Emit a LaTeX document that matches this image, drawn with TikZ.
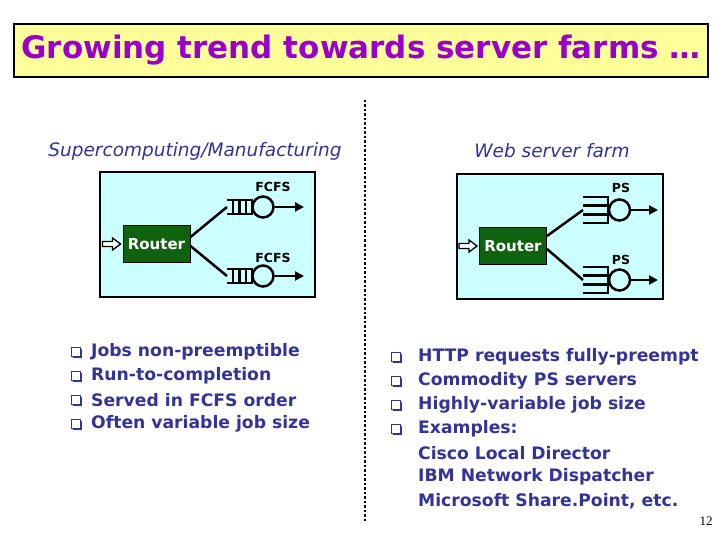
\documentclass[tikz,border=0pt]{standalone}
\usepackage{fontspec}
\setmainfont{DejaVu Sans}
\newfontfamily\serifnum{Liberation Serif}
\usetikzlibrary{calc,arrows.meta,shadows}
\definecolor{ttl}{HTML}{9900CC}
\definecolor{txt}{HTML}{333399}
\definecolor{ybg}{HTML}{FFFF99}
\definecolor{cbg}{HTML}{CCFFFF}
\definecolor{rgreen}{HTML}{0F620F}
\tikzset{
  titlebox/.style={draw=black, line width=2.5pt, fill=ybg, text=ttl, minimum width=694pt, minimum height=53pt, inner sep=0pt,
    font=\fontsize{31}{35}\selectfont\bfseries},
  hdr/.style={text=txt, inner sep=0pt, font=\fontsize{18.5}{22}\selectfont\itshape},
  panel/.style={draw=black, line width=1.5pt, fill=cbg, inner sep=0pt},
  router/.style={draw=black, line width=1pt, fill=rgreen, text=white, minimum width=67pt, minimum height=36pt, inner sep=0pt,
    font=\fontsize{15}{17}\selectfont\bfseries},
  hollow/.style={draw=black, fill=white, line width=1.3pt, line join=miter},
  link/.style={line width=2.5pt},
  qline/.style={line width=2.5pt},
  server/.style={circle, draw=black, line width=2.5pt, minimum size=21pt, inner sep=0pt},
  outarrow/.style={line width=2.5pt, -{Triangle[length=9pt,width=9pt]}},
  qlabel/.style={inner sep=0pt, font=\fontsize{12.5}{14}\selectfont\bfseries},
  bul/.style={rectangle, draw=txt, fill=white, line width=0.9pt, minimum size=8.5pt, inner sep=0pt,
    general shadow={fill=txt, shadow xshift=1.4pt, shadow yshift=-1.4pt}},
  btext/.style={anchor=west, text=txt, inner sep=0pt, font=\fontsize{17.2}{20}\selectfont\bfseries},
  divider/.style={line width=2.5pt, dash pattern=on 2.5pt off 2pt},
}
\begin{document}
\begin{tikzpicture}[x=1pt,y=-1pt]
\useasboundingbox (0,0) rectangle (720,540);
\fill[white] (0,0) rectangle (720,540);

% title
\node[titlebox] (title) at (361,50.5) {Growing trend towards server farms …};

% divider
\coordinate (dtop) at (365,100);
\coordinate (dbot) at (365,521);
\draw[divider] (dtop) -- (dbot);

% headers
\node[hdr] (lhead) at (195,151) {Supercomputing/Manufacturing};
\node[hdr] (rhead) at (552,151) {Web server farm};

% ---------- left panel ----------
\node[panel, minimum width=215pt, minimum height=125pt] (lbox) at (207.5,234.5) {};
\node[router] (lrouter) at (156.5,244) {Router};
\draw[hollow] ([xshift=-2pt]lrouter.west) -- ++(-8,6) -- ++(0,-3.5) -- ++(-10,0) -- ++(0,-5) -- ++(10,0) -- ++(0,-3.5) -- cycle;

\coordinate (lq1) at (227,207);
\coordinate (lq2) at (227,276);
\foreach \q in {lq1,lq2} {
  \draw[qline] ($(\q)+(0,-7)$) -- ++(26,0);
  \draw[qline] ($(\q)+(0,7)$) -- ++(26,0);
  \foreach \x in {6,12.5,19,25} \draw[qline] ($(\q)+(\x,-7)$) -- ++(0,14);
}
\node[server] (ls1) at (263,207) {};
\node[server] (ls2) at (263,276) {};
\coordinate (lo1) at (304,207);
\coordinate (lo2) at (304,276);
\draw[outarrow] (ls1) -- (lo1);
\draw[outarrow] (ls2) -- (lo2);
\node[qlabel] (lf1) at (273,187) {FCFS};
\node[qlabel] (lf2) at (273,258) {FCFS};
\draw[link] ([yshift=7pt]lrouter.east) -- (lq1);
\draw[link] ([yshift=-2pt]lrouter.east) -- (lq2);

% ---------- right panel ----------
\node[panel, minimum width=206pt, minimum height=125pt] (rbox) at (560,236.5) {};
\node[router] (rrouter) at (513,246) {Router};
\draw[hollow] ([xshift=-2pt]rrouter.west) -- ++(-8,6) -- ++(0,-3.5) -- ++(-10,0) -- ++(0,-5) -- ++(10,0) -- ++(0,-3.5) -- cycle;

\coordinate (rq1) at (583,210);
\coordinate (rq2) at (583,280);
\foreach \q in {rq1,rq2} {
  \draw[qline] ($(\q)+(25,-14)$) -- ++(0,28);
  \foreach \y in {-13,-4.5,4.5,13} \draw[qline] ($(\q)+(0,\y)$) -- ++(25,0);
}
\node[server] (rs1) at (619.5,210) {};
\node[server] (rs2) at (619.5,280) {};
\coordinate (ro1) at (658,210);
\coordinate (ro2) at (658,280);
\draw[outarrow] (rs1) -- (ro1);
\draw[outarrow] (rs2) -- (ro2);
\node[qlabel] (rp1) at (621,188) {PS};
\node[qlabel] (rp2) at (621,260) {PS};
\draw[link] ([yshift=10pt]rrouter.east) -- (rq1);
\draw[link] ([yshift=-3pt]rrouter.east) -- (rq2);

% ---------- bullets left ----------
\foreach \t [count=\i] in {Jobs non-preemptible, Run-to-completion, Served in FCFS order, Often variable job size} {
  \node[bul] (lb\i) at (76,328+24*\i) {};
  \node[btext] (lt\i) at (91,328+24*\i) {\t};
}

% ---------- bullets right ----------
\foreach \t [count=\i] in {HTTP requests fully-preempt, Commodity PS servers, Highly-variable job size, Examples:} {
  \node[bul] (rb\i) at (396,333+24*\i) {};
  \node[btext] (rt\i) at (418,333+24*\i) {\t};
}
\node[btext] (rx1) at (418,453) {Cisco Local Director};
\node[btext] (rx2) at (418,477) {IBM Network Dispatcher};
\node[btext] (rx3) at (418,501) {Microsoft Share.Point, etc.};

\node[inner sep=0pt, font=\serifnum\fontsize{13}{15}\selectfont] (pg) at (706,521) {12};
\end{tikzpicture}
\end{document}
